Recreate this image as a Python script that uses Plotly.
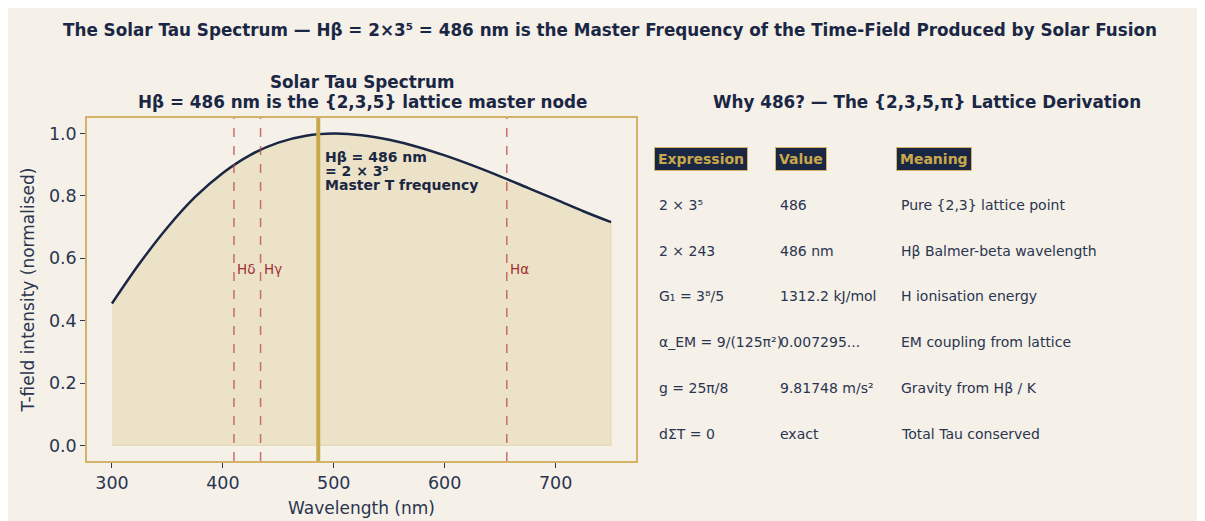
import plotly.graph_objects as go

# ---------------- data ----------------
wavelength_nm = [300, 325, 350, 375, 400, 425, 450, 475, 500, 525, 550, 575,
                 600, 625, 650, 675, 700, 725, 750]
t_intensity = [0.455, 0.584, 0.699, 0.797, 0.874, 0.932, 0.971, 0.993, 1.000,
               0.995, 0.980, 0.958, 0.930, 0.898, 0.863, 0.826, 0.789, 0.751, 0.716]

balmer_names = ["Hδ", "Hγ", "Hα"]
balmer_nm = [410, 434, 656]
hbeta_nm = 486
hbeta_label = ["Hβ = 486 nm", "= 2 × 3⁵", "Master T frequency"]

x_ticks = [300, 400, 500, 600, 700]
y_ticks = [0.0, 0.2, 0.4, 0.6, 0.8, 1.0]

table_header = ["Expression", "Value", "Meaning"]
table_expr = ["2 × 3⁵", "2 × 243", "G₁ = 3⁸/5", "α_EM = 9/(125π²)", "g = 25π/8", "dΣT = 0"]
table_value = ["486", "486 nm", "1312.2 kJ/mol", "0.007295...", "9.81748 m/s²", "exact"]
table_meaning = ["Pure {2,3} lattice point", "Hβ Balmer-beta wavelength", "H ionisation energy",
                 "EM coupling from lattice", "Gravity from Hβ / K", "Total Tau conserved"]

# ---------------- style ----------------
OFF = 8              # page body margin
W, H = 1205 - OFF, 521 - OFF
BG = "#f5f0e8"
NAVY = "#1a2744"
TXT = "#2a3550"
GOLD = "#c9a84c"
FONT = "DejaVu Sans"


def px(x):
    return (x - OFF) / W


def py(y):
    return 1 - (y - OFF) / H


fig = go.Figure()

# filled area under curve (closed polygon, faint edge)
fill_x = wavelength_nm + wavelength_nm[::-1]
fill_y = t_intensity + [0] * len(wavelength_nm)
fig.add_trace(go.Scatter(x=fill_x, y=fill_y, fill="toself", mode="lines",
                         line=dict(color="rgba(201,168,76,0.22)", width=1.2),
                         fillcolor="rgba(201,168,76,0.2)", hoverinfo="skip", showlegend=False))

fig.add_trace(go.Scatter(x=wavelength_nm, y=t_intensity, mode="lines",
                         line=dict(color=NAVY, width=2.5, shape="spline"),
                         showlegend=False))

# Balmer lines
for name, wl in zip(balmer_names, balmer_nm):
    fig.add_shape(type="line", x0=wl, x1=wl, xref="x", y0=0, y1=1, yref="y domain",
                  line=dict(color="rgba(185,70,70,0.75)", width=1.5, dash="dash"))
    fig.add_annotation(x=wl, y=0.565, xref="x", yref="y", text=name, showarrow=False,
                       xanchor="left", yanchor="middle", xshift=1,
                       font=dict(family=FONT, size=13.5, color="#a03030"))

fig.add_shape(type="line", x0=hbeta_nm, x1=hbeta_nm, xref="x", y0=0, y1=1, yref="y domain",
              line=dict(color=GOLD, width=4))
for line_txt, ly in zip(hbeta_label, [0.9265, 0.880, 0.834]):
    fig.add_annotation(x=hbeta_nm, y=ly, xref="x", yref="y", xanchor="left", yanchor="middle",
                       xshift=5, showarrow=False, text="<b>" + line_txt + "</b>",
                       font=dict(family=FONT, size=14, color=NAVY))

# Titles
TITLE_SIZE = 16.8
fig.add_annotation(x=px(610), y=py(30), xref="paper", yref="paper", showarrow=False,
                   xanchor="center", yanchor="middle",
                   text="<b>The Solar Tau Spectrum — Hβ = 2×3⁵ = 486 nm is the Master Frequency of the Time-Field Produced by Solar Fusion</b>",
                   font=dict(family=FONT, size=TITLE_SIZE, color=NAVY))
fig.add_annotation(x=px(362), y=py(82), xref="paper", yref="paper", showarrow=False,
                   xanchor="center", yanchor="middle", text="<b>Solar Tau Spectrum</b>",
                   font=dict(family=FONT, size=TITLE_SIZE, color=NAVY))
fig.add_annotation(x=px(362), y=py(102), xref="paper", yref="paper", showarrow=False,
                   xanchor="center", yanchor="middle",
                   text="<b>Hβ = 486 nm is the {2,3,5} lattice master node</b>",
                   font=dict(family=FONT, size=TITLE_SIZE, color=NAVY))
fig.add_annotation(x=px(927), y=py(102), xref="paper", yref="paper", showarrow=False,
                   xanchor="center", yanchor="middle",
                   text="<b>Why 486? — The {2,3,5,π} Lattice Derivation</b>",
                   font=dict(family=FONT, size=TITLE_SIZE, color=NAVY))

# Table
col_x = [654, 775, 896]
for cx, hdr in zip(col_x, table_header):
    fig.add_annotation(x=px(cx), y=py(159), xref="paper", yref="paper", showarrow=False,
                       xanchor="left", yanchor="middle", text="<b>" + hdr + "</b>",
                       bgcolor=NAVY, bordercolor="#d4b26a", borderwidth=1, borderpad=3,
                       font=dict(family=FONT, size=14, color=GOLD))
row_y = [205, 251, 296, 342, 388, 434]
for i, ry in enumerate(row_y):
    for cx, col in zip(col_x, [table_expr, table_value, table_meaning]):
        fig.add_annotation(x=px(cx + 3), y=py(ry), xref="paper", yref="paper", showarrow=False,
                           xanchor="left", yanchor="middle", text=col[i],
                           font=dict(family=FONT, size=14, color=TXT))

TICK_SIZE = 17.5
fig.update_xaxes(domain=[px(87), px(636)], range=[277.5, 772.5], tickvals=x_ticks,
                 showgrid=False, zeroline=False, showline=True, mirror=True,
                 linecolor="#d4b26a", linewidth=1.5, ticks="outside", ticklen=5,
                 tickcolor=TXT, tickfont=dict(family=FONT, size=TICK_SIZE, color=TXT),
                 title=dict(text="Wavelength (nm)", font=dict(family=FONT, size=17, color=TXT),
                            standoff=10))
fig.update_yaxes(domain=[py(461), py(118)], range=[-0.05, 1.05], tickvals=y_ticks,
                 tickformat=".1f", showgrid=False, zeroline=False, showline=True, mirror=True,
                 linecolor="#d4b26a", linewidth=1.5, ticks="outside", ticklen=5,
                 tickcolor=TXT, tickfont=dict(family=FONT, size=TICK_SIZE, color=TXT),
                 title=dict(text="T-field intensity (normalised)",
                            font=dict(family=FONT, size=17, color=TXT), standoff=10))

fig.update_layout(width=W, height=H, margin=dict(l=0, r=0, t=0, b=0),
                  paper_bgcolor=BG, plot_bgcolor=BG, font=dict(family=FONT, color=TXT))

fig.write_html("out.html")
